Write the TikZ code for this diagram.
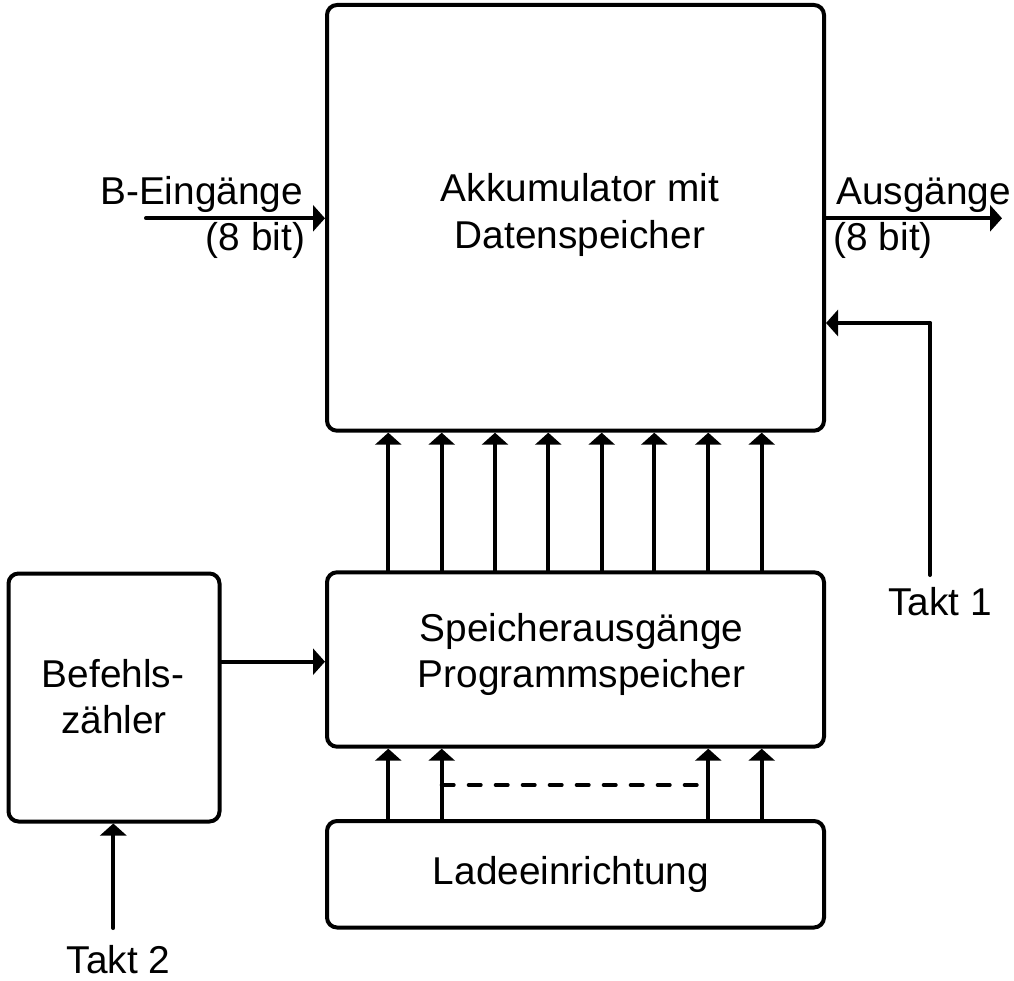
\documentclass[tikz,border=0pt]{standalone}
\usepackage{fontspec}
\setmainfont{Liberation Sans}
\usetikzlibrary{arrows.meta}
\begin{document}
\begin{tikzpicture}[x=1pt,y=-1pt,
  blk/.style={draw,line width=4pt,rounded corners=10pt,inner sep=0pt},
  lbl/.style={inner sep=0pt,anchor=base,font=\fontsize{38.8}{46}\selectfont},
  conn/.style={line width=4pt,line cap=round,-{Triangle[length=12pt,width=26pt]}},
  plain/.style={line width=4pt,line cap=round},
  dashline/.style={line width=4pt,line cap=round,dash pattern=on 12pt off 15pt}]
\useasboundingbox (0,0) rectangle (1014,981);
% boxes
\node[blk,minimum width=497pt,minimum height=425.7pt] (akk) at (575.5,217.85) {};
\node[blk,minimum width=497pt,minimum height=174.4pt] (spk) at (575.5,659.5) {};
\node[blk,minimum width=497pt,minimum height=106.5pt] (lade) at (575.5,874.25) {};
\node[blk,minimum width=211pt,minimum height=248pt] (bef) at (114,697.5) {};
% texts
\node[lbl] (t1a) at (580,202) {Akkumulator mit};
\node[lbl] (t1b) at (580,248.5) {Datenspeicher};
\node[lbl] (t2a) at (581.5,641) {Speicherausgänge};
\node[lbl] (t2b) at (581.5,687.5) {Programmspeicher};
\node[lbl] (t3) at (571,884) {Ladeeinrichtung};
\node[lbl] (t4a) at (113,687) {Befehls-};
\node[lbl] (t4b) at (114,733.5) {zähler};
\node[lbl,anchor=base east] (bin) at (303.2,205) {B-Eingänge};
\node[lbl,anchor=base east] (bin8) at (305.3,251) {(8 bit)};
\node[lbl,anchor=base west] (aus) at (836,205) {Ausgänge};
\node[lbl,anchor=base west] (aus8) at (833.5,251) {(8 bit)};
\node[lbl] (tk1) at (940,615) {Takt 1};
\node[lbl] (tk2) at (118.5,973) {Takt 2};
% coordinates
\foreach \i/\x in {1/388.3,2/441.7,3/495,4/548.3,5/601.7,6/654.3,7/708.3,8/761.7}
  \coordinate (c\i) at (\x,0);
\coordinate (inS) at (146,218.3);
\coordinate (outE) at (1002,218.3);
\coordinate (k1s) at (930,575);
\coordinate (k1c) at (930,323);
\coordinate (k2s) at (113.3,928);
\coordinate (dy) at (0,785);
\coordinate (bfy) at (0,661.7);
% bus arrows
\foreach \i in {1,...,8}
  \draw[conn] (c\i |- spk.north) -- (c\i |- akk.south);
\foreach \i in {1,2,7,8}
  \draw[conn] (c\i |- lade.north) -- (c\i |- spk.south);
\draw[dashline] (c2 |- dy) -- ([xshift=-8.3pt]c7 |- dy);
% inputs / outputs
\draw[conn] (inS) -- (inS -| akk.west);
\draw[conn] (inS -| akk.east) -- (outE);
\draw[plain] (k1s) -- (k1c);
\draw[conn] (k1c) -- (k1c -| akk.east);
\draw[conn] (bef.east |- bfy) -- (spk.west |- bfy);
\draw[conn] (k2s) -- (k2s |- bef.south);
\end{tikzpicture}
\end{document}
